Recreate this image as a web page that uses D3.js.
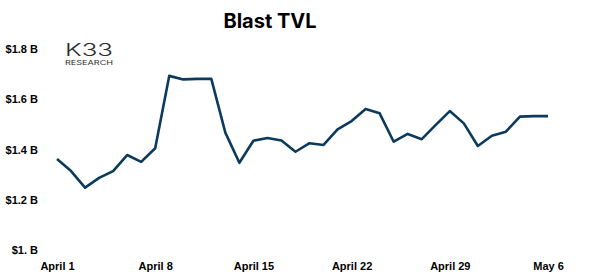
<!DOCTYPE html>
<html>
<head>
<meta charset="utf-8">
<script src="https://cdn.jsdelivr.net/npm/d3@7"></script>
<style>
    body { margin: 0; background: #fff; }
    svg { display: block; font-family: "Inter", "DejaVu Sans", sans-serif; }
    .axis text { font-size: 11px; font-weight: 700; fill: #000; }
    .axis path, .axis line { display: none; }
    .line { fill: none; stroke: #0c3a5c; stroke-width: 2.6; stroke-linejoin: round; }
</style>
</head>
<body>
<div id="chart"></div>
<script>
// Blast TVL, daily, in billions of USD
const startDate = new Date(2024, 3, 1);
const tvl = [1.362, 1.314, 1.248, 1.287, 1.314, 1.378, 1.351, 1.405,
             1.693, 1.679, 1.681, 1.681, 1.467, 1.347, 1.435, 1.446,
             1.436, 1.391, 1.425, 1.418, 1.480, 1.513, 1.561, 1.544,
             1.431, 1.462, 1.441, 1.498, 1.553, 1.504, 1.414, 1.455,
             1.471, 1.531, 1.533, 1.533];
const yTicks = [1.0, 1.2, 1.4, 1.6, 1.8];
const yTickLabels = ["$1. B", "$1.2 B", "$1.4 B", "$1.6 B", "$1.8 B"];
const xTickLabels = ["April 1", "April 8", "April 15", "April 22", "April 29", "May 6"];

let data = tvl.map((v, i) => ({ date: d3.timeDay.offset(startDate, i), value: v }));

let width = 600, height = 280;

let svg = d3.select("#chart").append("svg")
    .attr("width", width)
    .attr("height", height);

// Scales
let x = d3.scaleTime()
    .domain(d3.extent(data, d => d.date))
    .range([57, 548]);

let y = d3.scaleLinear()
    .domain([1.0, 1.8])
    .range([250, 49]);

// Title
svg.append("text")
    .attr("x", 270)
    .attr("y", 28)
    .attr("text-anchor", "middle")
    .style("font-size", "20px")
    .style("font-weight", 700)
    .text("Blast TVL");

// K33 logo
let logo = svg.append("g").attr("fill", "#2b2b2b");
logo.append("text")
    .attr("x", 65)
    .attr("y", 56)
    .attr("textLength", 48)
    .attr("lengthAdjust", "spacingAndGlyphs")
    .style("font-size", "17px")
    .style("font-weight", 300)
    .text("K33");
logo.append("text")
    .attr("x", 65)
    .attr("y", 65)
    .attr("textLength", 48)
    .attr("lengthAdjust", "spacingAndGlyphs")
    .style("font-size", "6.5px")
    .text("RESEARCH");

// Axes
let yAxis = d3.axisLeft(y)
    .tickValues(yTicks)
    .tickSize(0)
    .tickPadding(0)
    .tickFormat((d, i) => yTickLabels[i]);

svg.append("g")
    .attr("class", "y-axis axis")
    .attr("transform", "translate(38,0)")
    .call(yAxis);

let xAxis = d3.axisBottom(x)
    .tickValues(xTickLabels.map((t, i) => d3.timeDay.offset(startDate, i * 7)))
    .tickSize(0)
    .tickPadding(0)
    .tickFormat((d, i) => xTickLabels[i]);

svg.append("g")
    .attr("class", "x-axis axis")
    .attr("transform", "translate(0,262)")
    .call(xAxis);

// Line
let line = d3.line()
    .x(d => x(d.date))
    .y(d => y(d.value));

svg.append("path")
    .datum(data)
    .attr("class", "line")
    .attr("d", line);
</script>
</body>
</html>
